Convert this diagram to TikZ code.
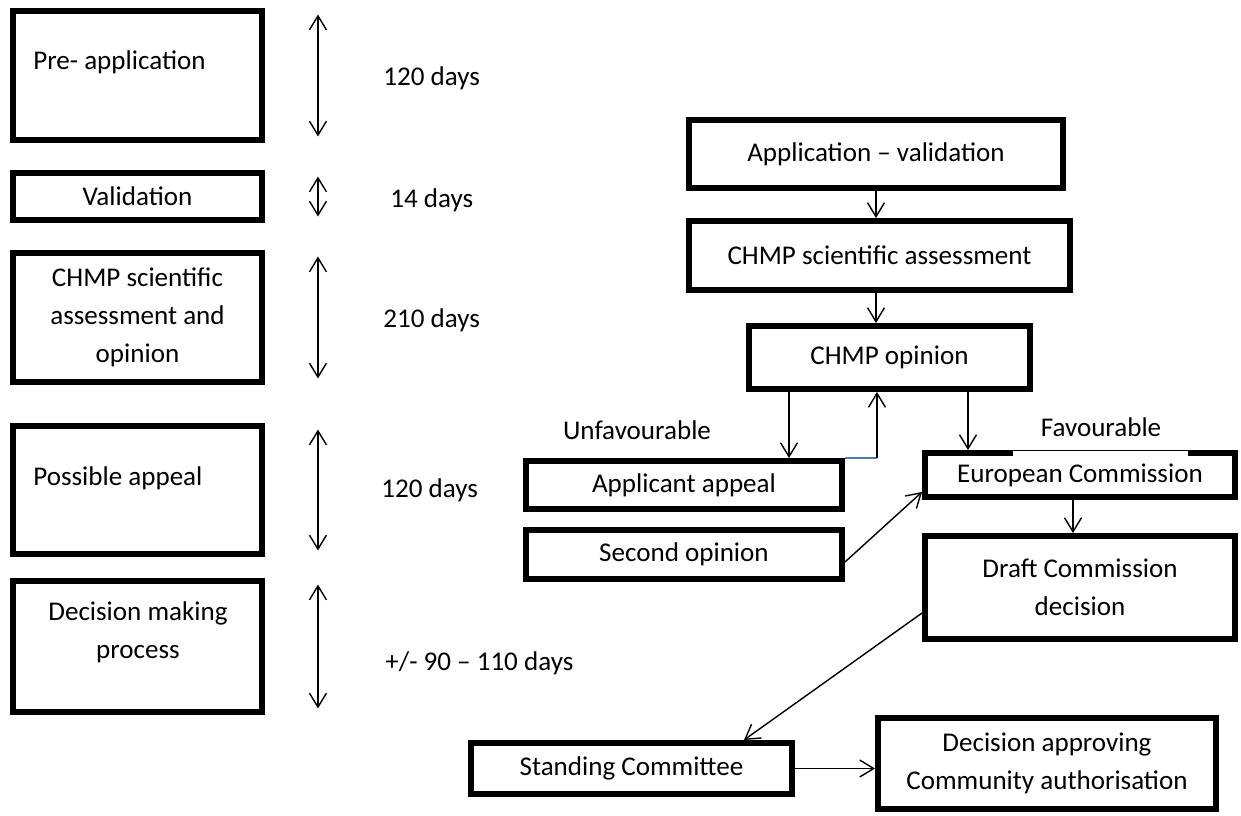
\documentclass[tikz,border=0pt]{standalone}
\usepackage{fontspec}
\setmainfont{Carlito}
\usetikzlibrary{positioning,calc,arrows.meta}
\definecolor{returnblue}{RGB}{74,126,187}

\begin{document}
\begin{tikzpicture}[x=0.02cm, y=-0.02cm,
						every node/.style={font=\fontsize{15.4}{21.5}\selectfont},
						stage/.style={draw, line width=3.4pt, align=center, inner sep=2pt},
						days/.style={anchor=west, inner sep=0pt},
						link/.style={line width=0.8pt},
						>={Straight Barb[length=2.8mm,width=3.4mm]}]
					\useasboundingbox (0,0) rectangle (1241,815);

					\node[stage, minimum width=4.98cm, minimum height=2.58cm] (preapp) at (137.5,75.5) {};
					\node[anchor=west, inner sep=0pt] (preapptext) at (33,62) {Pre- application};
					\node[stage, minimum width=4.98cm, minimum height=0.94cm] (valid) at (137.5,196.5) {Validation};
					\node[stage, minimum width=4.98cm, minimum height=2.58cm] (chmpL) at (137.5,317.5) {CHMP scientific\\assessment and\\opinion};
					\node[stage, minimum width=4.98cm, minimum height=2.56cm] (appeal) at (137.5,490) {};
					\node[anchor=west, inner sep=0pt] (appealtext) at (33,478) {Possible appeal};
					\node[stage, minimum width=4.98cm, minimum height=2.62cm] (decide) at (137.5,646.5) {};
					\node[align=center] (decidetext) at (138,632) {Decision making\\process};

					\foreach \b in {preapp,valid,chmpL,appeal,decide}
						\draw[<->, link] ([xshift=1.06cm,yshift=-0.13cm]\b.north east) -- ([xshift=1.06cm,yshift=0.13cm]\b.south east);

					\node[days] (d1) at (383,78) {120 days};
					\node[days] (d2) at (390,200) {14 days};
					\node[days] (d3) at (383,320) {210 days};
					\node[days] (d4) at (381,490) {120 days};
					\node[days] (d5) at (385,663) {+/- 90 – 110 days};

					\node[stage, minimum width=7.48cm, minimum height=1.36cm] (appval) at (876,154) {Application – validation};
					\node[stage, minimum width=7.62cm, minimum height=1.38cm] (chmpR) at (879.5,255.5) {CHMP scientific assessment};
					\node[stage, minimum width=5.62cm, minimum height=1.26cm] (opinion) at (889.5,357.5) {CHMP opinion};
					\node (unfav) at (637,430) {Unfavourable};
					\node (fav) at (1101,427) {Favourable};
					\node[stage, minimum width=6.32cm, minimum height=0.96cm] (applicant) at (684,485) {Applicant appeal};
					\node[stage, minimum width=6.32cm, minimum height=0.98cm] (second) at (684,554.5) {Second opinion};
					\node[stage, minimum width=6.2cm, minimum height=0.88cm] (euro) at (1080,475) {European Commission};
					\node[stage, minimum width=6.2cm, minimum height=2.06cm] (draft) at (1080,587.5) {Draft Commission\\decision};
					\node[stage, minimum width=6.42cm, minimum height=1.02cm] (standing) at (631.5,768.5) {Standing Committee};
					\node[stage, minimum width=6.76cm, minimum height=1.82cm] (approval) at (1047,763.5) {Decision approving\\Community authorisation};

					\draw[white, line width=2.6pt] ([xshift=1.82cm,yshift=-0.075cm]euro.north west) -- ([xshift=5.32cm,yshift=-0.075cm]euro.north west);

					\draw[->, link] (appval.south) coordinate (vtop) -- (vtop |- chmpR.north);
					\draw[->, link] (vtop |- chmpR.south) coordinate (stop) -- (stop |- opinion.north);
					\draw[->, link] ([xshift=-2.01cm]opinion.south) coordinate (unfavdown) -- (unfavdown |- applicant.north);
					\draw[link, draw=returnblue] (applicant.north east) -- ++(32,0) coordinate (back);
					\draw[->, link] (back) -- (back |- opinion.south);
					\draw[->, link] ([xshift=1.57cm]opinion.south) coordinate (favdown) -- (favdown |- euro.north);
					\draw[->, link] ([yshift=-0.15cm]second.east) -- ([yshift=0.16cm]euro.south west);
					\draw[->, link] ([xshift=-0.14cm]euro.south) coordinate (edown) -- (edown |- draft.north);
					\draw[->, link] ([yshift=-0.51cm]draft.west) -- ([xshift=2.25cm]standing.north);
					\draw[->, link] (standing.east) -- (standing.east -| approval.west);
				\end{tikzpicture}
\end{document}
